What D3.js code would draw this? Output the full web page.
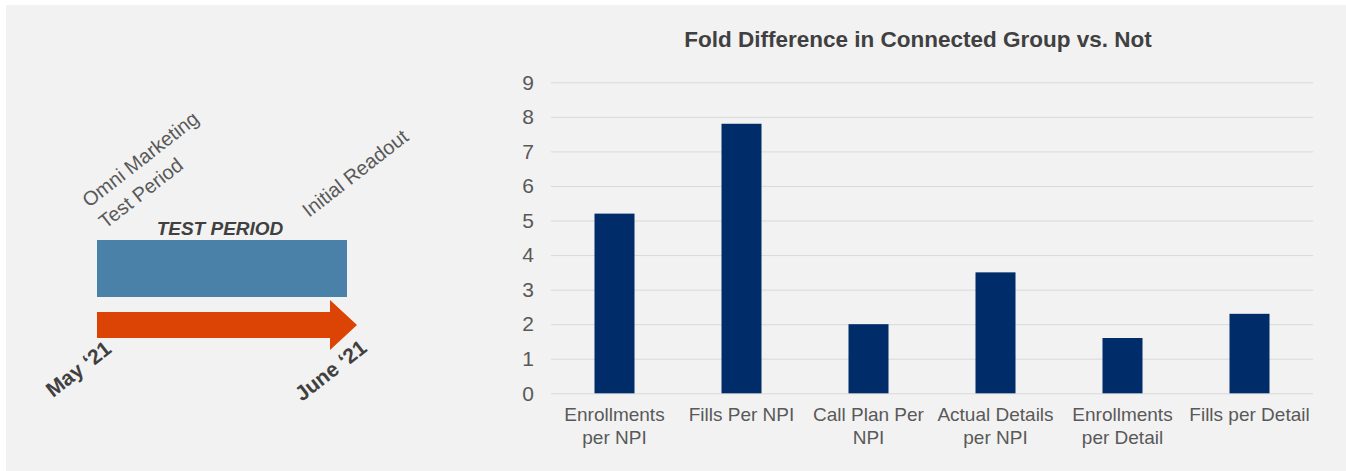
<!DOCTYPE html>
<html>
<head>
<meta charset="utf-8">
<script src="https://cdn.jsdelivr.net/npm/d3@7"></script>
<style>
  body { margin: 0; background: #fff; }
  svg { display: block; font-family: "Liberation Sans", Arial, sans-serif; }
</style>
</head>
<body>
<svg id="chart" width="1346" height="471"></svg>
<script>
// chart data
const categories = [
    ['Enrollments', 'per NPI'],
    ['Fills Per NPI'],
    ['Call Plan Per', 'NPI'],
    ['Actual Details', 'per NPI'],
    ['Enrollments', 'per Detail'],
    ['Fills per Detail']
];
const fold_values = [5.2, 7.8, 2.0, 3.5, 1.6, 2.3];
const y_ticks = [0, 1, 2, 3, 4, 5, 6, 7, 8, 9];
const chart_title = 'Fold Difference in Connected Group vs. Not';

// timeline labels
const timeline_start_label = 'May \u201821';
const timeline_end_label = 'June \u201821';
const start_note_lines = ['Omni Marketing', 'Test Period'];
const end_note_lines = ['Initial Readout'];
const period_label = 'TEST PERIOD';

let svg = d3.select('#chart');

svg.append('rect')
    .attr('x', 6).attr('y', 5)
    .attr('width', 1346 - 6).attr('height', 471 - 5)
    .style('fill', '#f2f2f2');

// ---- bar chart ----
let plot_left = 551, plot_right = 1313, plot_top = 82.3, plot_bottom = 393.3;

let x = d3.scaleBand()
    .domain(d3.range(categories.length))
    .range([plot_left, plot_right])
    .paddingInner(0.685)
    .paddingOuter(0.3425);

let y = d3.scaleLinear()
    .domain([0, 9])
    .range([plot_bottom, plot_top]);

let grid = svg.append('g')
    .attr('transform', 'translate(' + plot_left + ',0)')
    .call(d3.axisLeft(y).tickValues(y_ticks).tickSize(-(plot_right - plot_left)).tickFormat(''));
grid.select('.domain').remove();
grid.selectAll('.tick line').style('stroke', '#d9d9d9').style('stroke-width', 1);

let y_axis = svg.append('g')
    .attr('transform', 'translate(534,0)')
    .call(d3.axisLeft(y).tickValues(y_ticks).tickSize(0).tickPadding(0));
y_axis.select('.domain').remove();
y_axis.selectAll('text')
    .style('font-size', '21px')
    .style('fill', '#595959')
    .style('font-family', '"Liberation Sans", Arial, sans-serif');

svg.append('g').selectAll('rect')
    .data(fold_values)
    .enter()
    .append('rect')
    .attr('x', (d, i) => x(i))
    .attr('y', d => y(d))
    .attr('width', x.bandwidth())
    .attr('height', d => y(0) - y(d))
    .style('fill', '#002d69');

let x_labels = svg.append('g').selectAll('text')
    .data(categories)
    .enter()
    .append('text')
    .attr('text-anchor', 'middle')
    .style('font-size', '19px')
    .style('fill', '#595959');

x_labels.selectAll('tspan')
    .data((d, i) => d.map(line => ({ line: line, i: i })))
    .enter()
    .append('tspan')
    .attr('x', d => x(d.i) + x.bandwidth() / 2)
    .attr('y', (d, j) => 421 + j * 23)
    .text(d => d.line);

svg.append('text')
    .attr('x', 918)
    .attr('y', 47)
    .attr('text-anchor', 'middle')
    .style('font-size', '22.5px')
    .style('font-weight', 'bold')
    .style('fill', '#404040')
    .text(chart_title);

// ---- timeline ----
svg.append('rect')
    .attr('x', 97).attr('y', 240)
    .attr('width', 250).attr('height', 57)
    .style('fill', '#4a81a8');

svg.append('path')
    .attr('d', d3.line()([[97, 312], [330, 312], [330, 300], [357, 325], [330, 350], [330, 338], [97, 338]]) + 'Z')
    .style('fill', '#dc4405');

svg.append('text')
    .attr('x', 220)
    .attr('y', 235)
    .attr('text-anchor', 'middle')
    .style('font-size', '19px')
    .style('font-weight', 'bold')
    .style('font-style', 'italic')
    .style('fill', '#404040')
    .text(period_label);

function rotated_text(lines, px, py, size, weight, color) {
    let t = svg.append('text')
        .attr('transform', 'translate(' + px + ',' + py + ') rotate(-38)')
        .style('font-size', size + 'px')
        .style('font-weight', weight)
        .style('fill', color);
    t.selectAll('tspan')
        .data(lines)
        .enter()
        .append('tspan')
        .attr('x', 0)
        .attr('y', (d, i) => i * size * 1.35)
        .text(d => d);
}

rotated_text(start_note_lines, 89, 208, 20, 'normal', '#595959');
rotated_text(end_note_lines, 309, 218, 20, 'normal', '#595959');
rotated_text([timeline_start_label], 53, 398, 21, 'bold', '#404040');
rotated_text([timeline_end_label], 302, 402, 21, 'bold', '#404040');
</script>
</body>
</html>
